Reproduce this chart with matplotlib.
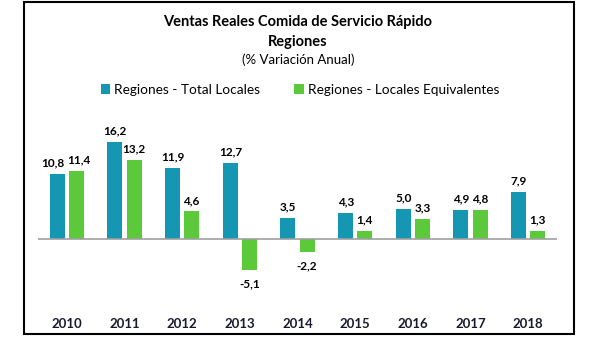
''' Ventas reales comida de servicio rapido - regiones '''
from matplotlib import pyplot as plt
from matplotlib.patches import Rectangle
import numpy as np

years = ['2010', '2011', '2012', '2013', '2014', '2015', '2016', '2017', '2018']
total_locales = [10.8, 16.2, 11.9, 12.7, 3.5, 4.3, 5.0, 4.9, 7.9]
locales_equiv = [11.4, 13.2, 4.6, -5.1, -2.2, 1.4, 3.3, 4.8, 1.3]

plt.rcParams['font.family'] = ['Lato', 'DejaVu Sans']

fig = plt.figure(figsize=(6.03, 3.49), dpi=100)
fig.patches.append(Rectangle((24 / 603, 1 - 334 / 349), 550 / 603, 332 / 349,
                             transform=fig.transFigure, fill=False,
                             edgecolor='black', linewidth=1.5))

ax = fig.add_axes([38 / 603, 50 / 349, 519 / 603, 180 / 349])
x = np.arange(len(years))
w = 0.26
off = 0.165
b1 = ax.bar(x - off, total_locales, w, color='#1597b3', label='Regiones - Total Locales')
b2 = ax.bar(x + off, locales_equiv, w, color='#5cc93b', label='Regiones - Locales Equivalentes')

for k, (bars, vals) in enumerate(((b1, total_locales), (b2, locales_equiv))):
    for i, (bar, v) in enumerate(zip(bars, vals)):
        cx = bar.get_x() + bar.get_width() / 2
        txt = ('%.1f' % v).replace('.', ',')
        dx = 0
        # 2010 labels sit close together, nudge them apart
        if i == 0:
            dx = -3 if k == 0 else 2
        if v >= 0:
            ax.annotate(txt, (cx, v), xytext=(dx, 4), textcoords='offset points',
                        ha='center', va='bottom', fontsize=8.5, fontweight='bold')
        else:
            ax.annotate(txt, (cx, v), xytext=(dx, -6), textcoords='offset points',
                        ha='center', va='top', fontsize=8.5, fontweight='bold')

ax.axhline(0, color='#a0a0a0', linewidth=1.2)
ax.set_xlim(-0.5, len(years) - 0.5)
ax.set_ylim(-10, 20)
ax.set_xticks(x)
ax.set_xticklabels(years, fontsize=9.5, fontweight='bold', color='#1a1a2e')
ax.tick_params(axis='x', length=0, pad=14)
ax.set_yticks([])
for s in ax.spines.values():
    s.set_visible(False)

fig.text(298 / 603, 1 - 22 / 349, 'Ventas Reales Comida de Servicio Rápido',
         ha='center', va='center', fontsize=10.5, fontweight='bold')
fig.text(298 / 603, 1 - 42 / 349, 'Regiones', ha='center', va='center',
         fontsize=10.5, fontweight='bold')
fig.text(298 / 603, 1 - 60 / 349, '(% Variación Anual)', ha='center', va='center',
         fontsize=9.5)
fig.legend(handles=[b1, b2], loc='center', bbox_to_anchor=(300 / 603, 1 - 90 / 349),
           ncol=2, frameon=False, fontsize=9.8, handlelength=0.7, handleheight=0.7,
           handletextpad=0.3, columnspacing=2.5)

plt.savefig('out.png', dpi=100)
plt.close()
